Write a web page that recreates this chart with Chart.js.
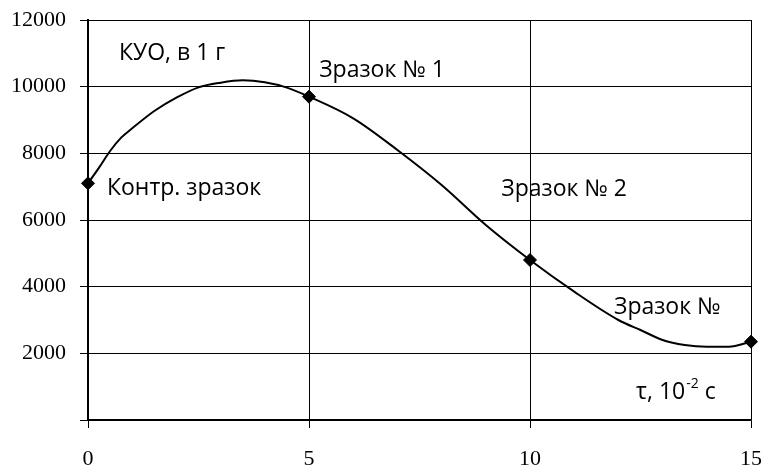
<!DOCTYPE html>
<html>
<head>
<meta charset="utf-8">
<script src="https://cdn.jsdelivr.net/npm/chart.js@4"></script>
<style>
  html, body { margin: 0; background: #fff; }
  #wrap { width: 765px; height: 468px; }
</style>
</head>
<body>
<div id="wrap"><canvas id="chart"></canvas></div>
<script>
// smooth curve (tau, КУО)
const curveX = [0, 0.25, 0.5, 0.75, 1, 1.5, 2, 2.5, 3, 3.5, 4, 4.5, 5, 6, 7, 8, 9, 10, 11, 12, 12.5, 13, 13.5, 14, 14.5, 15];
const curveY = [7100, 7570, 8070, 8470, 8750, 9270, 9670, 9980, 10120, 10190, 10130, 9970, 9700, 9050, 8100, 7050, 5850, 4800, 3850, 3000, 2700, 2400, 2250, 2200, 2200, 2350];

// measured samples
const sampleX = [0, 5, 10, 15];
const sampleY = [7100, 9700, 4800, 2350];

const xTicks = [0, 5, 10, 15];
const yTicks = [0, 2000, 4000, 6000, 8000, 10000, 12000];

// annotation texts, anchored in data units
const noteText = ['КУО, в 1 г', 'Зразок № 1', 'Контр. зразок', 'Зразок № 2', 'Зразок №'];
const noteX    = [0.7, 5.23, 0.43, 9.35, 11.9];
const noteY    = [11000, 10500, 6960, 6930, 3390];

const LABEL_FONT = '23px "Open Sans"';

const notesPlugin = {
  id: 'notes',
  afterDatasetsDraw(chart) {
    const { ctx, scales: { x, y } } = chart;
    ctx.save();
    ctx.fillStyle = '#000';
    ctx.font = LABEL_FONT;
    ctx.textAlign = 'left';
    ctx.textBaseline = 'middle';
    noteText.forEach((t, i) => {
      ctx.fillText(t, x.getPixelForValue(noteX[i]), y.getPixelForValue(noteY[i]));
    });
    // axis caption with superscript
    let px = x.getPixelForValue(12.4);
    const py = y.getPixelForValue(820);
    ctx.fillText('τ, 10', px, py);
    px += ctx.measureText('τ, 10').width;
    ctx.font = '14px "Open Sans"';
    ctx.fillText('-2', px + 1, py - 9);
    px += ctx.measureText('-2').width + 1;
    ctx.font = LABEL_FONT;
    ctx.fillText(' с', px, py);
    ctx.restore();
  }
};

// keep the plot box where the picture has it (no extra room for edge labels)
const noEdgePad = s => {
  s.paddingTop = 0; s.paddingBottom = 0; s.paddingLeft = 0; s.paddingRight = 0;
};

new Chart(document.getElementById('chart'), {
  type: 'scatter',
  data: {
    datasets: [
      {
        type: 'line',
        data: curveX.map((v, i) => ({ x: v, y: curveY[i] })),
        borderColor: '#000',
        borderWidth: 2,
        pointRadius: 0,
        cubicInterpolationMode: 'monotone',
        fill: false,
      },
      {
        data: sampleX.map((v, i) => ({ x: v, y: sampleY[i] })),
        pointStyle: 'rectRot',
        pointRadius: 6.5,
        borderWidth: 1,
        backgroundColor: '#000',
        borderColor: '#000',
        clip: false,
      },
    ],
  },
  options: {
    responsive: true, maintainAspectRatio: false,
    animation: false,
    layout: { padding: { top: 20, right: 14, left: 0, bottom: 0 } },
    plugins: { legend: { display: false }, tooltip: { enabled: false } },
    scales: {
      x: {
        type: 'linear', min: 0, max: 15,
        afterBuildTicks: s => { s.ticks = xTicks.map(v => ({ value: v })); },
        afterFit: s => { s.height = 48; noEdgePad(s); },
        ticks: { color: '#000', padding: 18, font: { family: 'Liberation Serif', size: 22 } },
        grid: { color: '#000', lineWidth: 1, tickLength: 8 },
        border: { color: '#000', width: 1.5 },
      },
      y: {
        min: 0, max: 12000,
        afterBuildTicks: s => { s.ticks = yTicks.map(v => ({ value: v })); },
        afterFit: s => { s.width = 88; noEdgePad(s); },
        ticks: {
          color: '#000', padding: 14,
          font: { family: 'Liberation Serif', size: 22 },
          callback: v => v === 0 ? '' : v,
        },
        grid: { color: '#000', lineWidth: 1, tickLength: 8 },
        border: { color: '#000', width: 2 },
      },
    },
  },
  plugins: [notesPlugin],
});
</script>
</body>
</html>
